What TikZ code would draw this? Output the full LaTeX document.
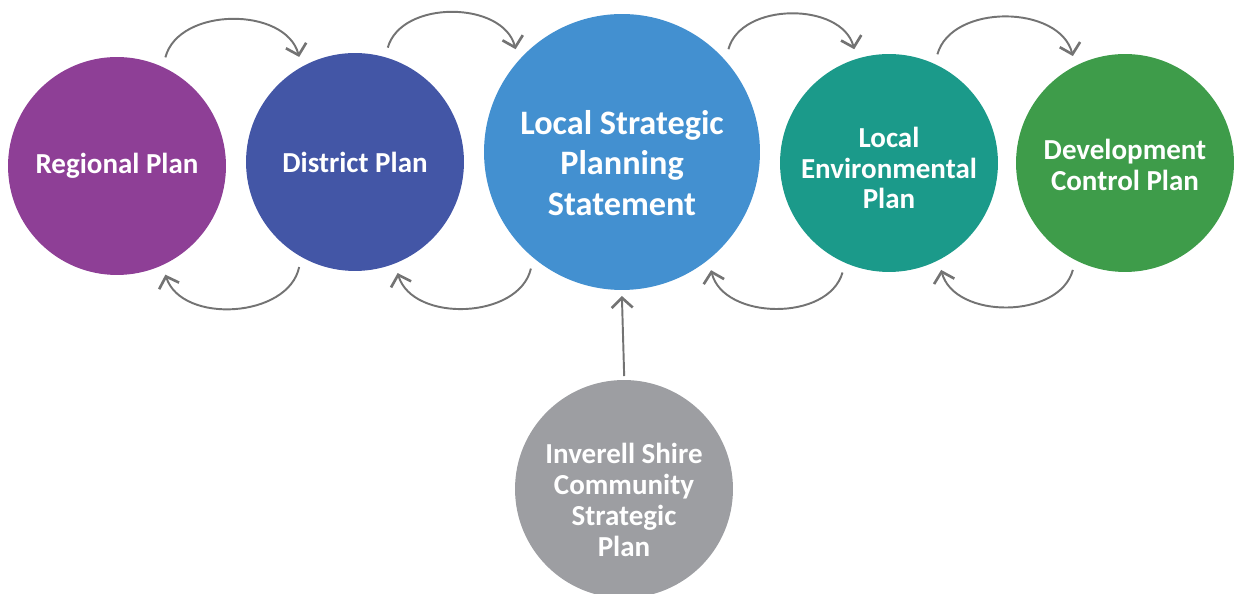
\documentclass[tikz,border=0pt]{standalone}
\usepackage{fontspec}
\setmainfont{Carlito}
\usetikzlibrary{arrows.meta}

\definecolor{regional}{HTML}{8E3F96}
\definecolor{district}{HTML}{4356A6}
\definecolor{lsps}{HTML}{4390D0}
\definecolor{lep}{HTML}{1B9A8A}
\definecolor{dcp}{HTML}{3E9C4A}
\definecolor{csp}{HTML}{9D9EA2}
\definecolor{arrowgray}{HTML}{737373}

\begin{document}
\begin{tikzpicture}[x=0.02cm,y=0.02cm,
    plan/.style={circle, inner sep=0pt, outer sep=0.2cm, minimum size=4.36cm},
    bigplan/.style={plan, minimum size=5.52cm},
    plantext/.style={text=white, align=center, font=\bfseries\fontsize{16.5}{17.5}\selectfont},
    bigtext/.style={plantext, font=\bfseries\fontsize{19.5}{23}\selectfont},
    flow/.style={draw=arrowgray, line width=1.1pt,
      -{Straight Barb[length=0.2cm,width=0.42cm,line width=1.5pt]}}]
  \useasboundingbox (0,0) rectangle (1234,594);

  % Plaene
  \node[plan, fill=regional, label={[plantext]center:Regional Plan}] (rp) at (117,428) {};
  \node[plan, fill=district, label={[plantext]center:District Plan}] (dp) at (355,432) {};
  \node[bigplan, fill=lsps,
    label={[bigtext, yshift=-0.22cm]center:Local Strategic\\Planning\\Statement}] (lsps) at (622,442) {};
  \node[plan, fill=lep,
    label={[plantext, yshift=-0.1cm]center:Local\\Environmental\\Plan}] (lep) at (889,431) {};
  \node[plan, fill=dcp,
    label={[plantext, yshift=-0.04cm]center:Development\\Control Plan}] (dcp) at (1125,431) {};
  \node[plan, fill=csp,
    label={[plantext, yshift=-0.22cm]center:Inverell Shire\\Community\\Strategic\\Plan}] (csp) at (624,105) {};

  % oben
  \draw[flow] (rp.66) to[bend left=75] (dp.118);
  \draw[flow] (dp.74) to[bend left=75] (lsps.136);
  \draw[flow] (lsps.44) to[bend left=75] (lep.107);
  \draw[flow] (lep.66) to[bend left=75] (dcp.116);

  % unten
  \draw[flow] (dp.-118) to[bend left=75] (rp.-66);
  \draw[flow] (lsps.-128) to[bend left=75] (dp.-69);
  \draw[flow] (lep.-113) to[bend left=75] (lsps.-53);
  \draw[flow] (dcp.-116) to[bend left=75] (lep.-64);

  \draw[flow, shorten <=-0.12cm, shorten >=-0.08cm] (csp.north) -- (lsps.south);
\end{tikzpicture}
\end{document}
